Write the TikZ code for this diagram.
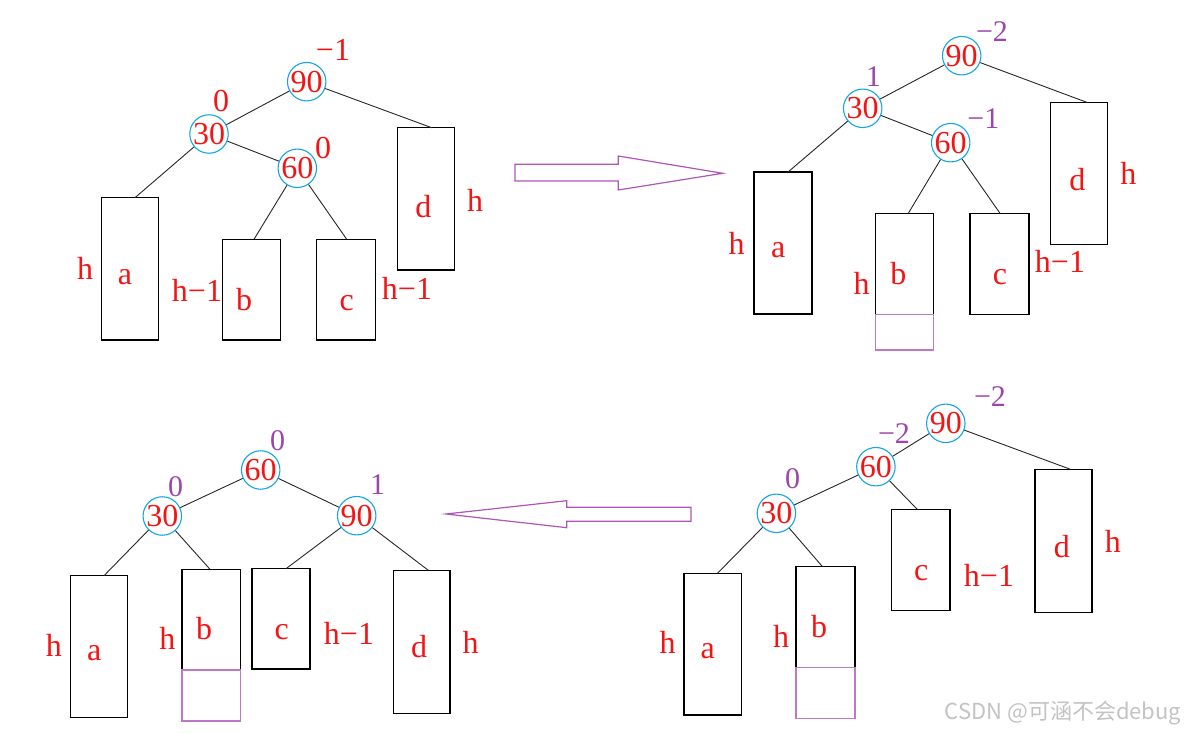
\documentclass[tikz,border=0pt]{standalone}
\usepackage{fontspec}
\setmainfont{Liberation Serif}
\newfontfamily\cjk{Noto Sans CJK SC}
\usetikzlibrary{fit}
\definecolor{nred}{RGB}{245,20,20}
\definecolor{cblue}{RGB}{20,165,230}
\definecolor{bpurple}{RGB}{155,70,170}
\definecolor{apurple}{RGB}{175,85,185}
\definecolor{epurple}{RGB}{190,120,200}
\definecolor{wmgray}{RGB}{195,195,195}
\tikzset{
  key/.style={circle, draw=cblue, line width=0.55pt, minimum size=18pt, inner sep=0pt, text=nred, font=\fontsize{16}{16}\selectfont},
  sub/.style={draw=black, line width=0.7pt, inner sep=0pt},
  ext/.style={draw=epurple, line width=0.6pt, inner sep=0pt},
  lbl/.style={text=nred, font=\fontsize{16}{16}\selectfont, inner sep=0pt},
  bal/.style={text=bpurple, font=\fontsize{15}{15}\selectfont, inner sep=0pt},
  edge/.style={draw=black!85, line width=0.45pt},
  bigarrow/.style={draw=apurple, line width=0.6pt},
}
\begin{document}
\begin{tikzpicture}[x=0.5pt,y=-0.5pt]
\useasboundingbox (0,0) rectangle (1185,733);

% ================= Panel 1 (top-left) =================
\node[key] (p1n90) at (306.7,81.7) {90};
\node[key] (p1n30) at (209,134) {30};
\node[key] (p1n60) at (297.3,168.3) {60};
\node[lbl] (p1b90) at (333,50) {−1};
\node[lbl] (p1b30) at (221,101) {0};
\node[lbl] (p1b60) at (323,148) {0};
\node[sub, fit={(101.7,197.7)(158.3,340)}] (p1A) {};
\node[sub, fit={(222.3,239.3)(280.3,340)}] (p1B) {};
\node[sub, fit={(316.7,239.3)(375.3,340)}] (p1C) {};
\node[sub, fit={(397.3,127.7)(454.3,270)}] (p1D) {};
\coordinate (p1At) at (135,197.7);
\coordinate (p1Bt) at (254,239.3);
\coordinate (p1Ct) at (346.7,239.3);
\coordinate (p1Dt) at (431.7,127.7);
\node[lbl] (p1la) at (125,276.7) {a};
\node[lbl] (p1lb) at (244,300) {b};
\node[lbl] (p1lc) at (346.7,303.3) {c};
\node[lbl] (p1ld) at (423.3,206.7) {d};
\node[lbl] (p1ha) at (85,268.3) {h};
\node[lbl] (p1hb) at (197,290) {h−1};
\node[lbl] (p1hc) at (407,288.3) {h−1};
\node[lbl] (p1hd) at (475,200) {h};
\draw[edge] (p1n90) -- (p1n30);
\draw[edge] (p1n90) -- (p1Dt);
\draw[edge] (p1n30) -- (p1At);
\draw[edge] (p1n30) -- (p1n60);
\draw[edge] (p1n60) -- (p1Bt);
\draw[edge] (p1n60) -- (p1Ct);

% ================= Arrow 1 =================
\draw[bigarrow] (515,164.3) -- (618.3,164.3) -- (618.3,156) -- (722.7,173.3) -- (618.3,190) -- (618.3,181) -- (515,181) -- cycle;

% ================= Panel 2 (top-right) =================
\node[key] (p2n90) at (961.7,55.7) {90};
\node[key] (p2n30) at (862.7,108.3) {30};
\node[key] (p2n60) at (950.7,142.7) {60};
\node[bal] (p2b90) at (992,31.7) {−2};
\node[bal] (p2b30) at (873.3,76.7) {1};
\node[bal] (p2b60) at (983.3,118.3) {−1};
\node[sub, line width=0.9pt, fit={(754.3,172.3)(812.3,314.3)}] (p2A) {};
\node[sub, fit={(875.7,213.3)(933.7,314.3)}] (p2B) {};
\node[ext, fit={(875.7,314.3)(933.7,350)}] (p2E) {};
\node[sub, fit={(970,213.3)(1029,314.3)}] (p2C) {};
\node[sub, fit={(1050.7,102.3)(1107.7,244.3)}] (p2D) {};
\coordinate (p2At) at (787.7,172.3);
\coordinate (p2Bt) at (908.3,213.3);
\coordinate (p2Ct) at (1000,213.3);
\coordinate (p2Dt) at (1086.7,102.3);
\node[lbl] (p2la) at (778.3,250) {a};
\node[lbl] (p2lb) at (898.3,273.3) {b};
\node[lbl] (p2lc) at (1000,276.7) {c};
\node[lbl] (p2ld) at (1077.3,180) {d};
\node[lbl] (p2ha) at (736.7,243.3) {h};
\node[lbl] (p2hb) at (861.7,283.3) {h};
\node[lbl] (p2hc) at (1060,261.7) {h−1};
\node[lbl] (p2hd) at (1128.3,173.3) {h};
\draw[edge] (p2n90) -- (p2n30);
\draw[edge] (p2n90) -- (p2Dt);
\draw[edge] (p2n30) -- (p2At);
\draw[edge] (p2n30) -- (p2n60);
\draw[edge] (p2n60) -- (p2Bt);
\draw[edge] (p2n60) -- (p2Ct);

% ================= Panel 3 (bottom-right) =================
\node[key] (p3n90) at (945.8,423.3) {90};
\node[key] (p3n60) at (875.9,466.7) {60};
\node[key] (p3n30) at (776.4,513.3) {30};
\node[bal] (p3b90) at (990,397) {−2};
\node[bal] (p3b60) at (894,433.3) {−2};
\node[bal] (p3b30) at (792.5,479) {0};
\node[sub, fit={(684.1,573.3)(741.6,715)}] (p3A) {};
\node[sub, fit={(796,566.7)(854.9,667.7)}] (p3B) {};
\node[ext, fit={(796,667.7)(854.9,718.3)}] (p3E) {};
\node[sub, fit={(891.4,509.3)(949.9,610.7)}] (p3C) {};
\node[sub, fit={(1035,469.3)(1092.1,612.3)}] (p3D) {};
\coordinate (p3At) at (717.5,573.3);
\coordinate (p3Bt) at (822.5,566.7);
\coordinate (p3Ct) at (917.2,509.3);
\coordinate (p3Dt) at (1070.4,469.3);
\node[lbl] (p3la) at (707.8,651) {a};
\node[lbl] (p3lb) at (819,626.7) {b};
\node[lbl] (p3lc) at (921.3,573.3) {c};
\node[lbl] (p3ld) at (1061.8,546.7) {d};
\node[lbl] (p3ha) at (667.5,642.3) {h};
\node[lbl] (p3hb) at (781.2,636.7) {h};
\node[lbl] (p3hc) at (989,575.7) {h−1};
\node[lbl] (p3hd) at (1112.8,541.7) {h};
\draw[edge] (p3n90) -- (p3n60);
\draw[edge] (p3n90) -- (p3Dt);
\draw[edge] (p3n60) -- (p3n30);
\draw[edge] (p3n60) -- (p3Ct);
\draw[edge] (p3n30) -- (p3At);
\draw[edge] (p3n30) -- (p3Bt);

% ================= Arrow 2 =================
\draw[bigarrow] (691,507.3) -- (566.7,507.3) -- (566.7,500.7) -- (446,514) -- (566.7,527.7) -- (566.7,521.3) -- (691,521.3) -- cycle;

% ================= Panel 4 (bottom-left) =================
\node[key] (p4n60) at (260.7,470) {60};
\node[key] (p4n30) at (162.3,516) {30};
\node[key] (p4n90) at (356.7,515.7) {90};
\node[bal] (p4b60) at (277.7,441) {0};
\node[bal] (p4b30) at (175.7,486.7) {0};
\node[bal] (p4b90) at (377.7,485) {1};
\node[sub, fit={(70.7,575.7)(127.3,717.7)}] (p4A) {};
\node[sub, fit={(182,569.3)(240.3,670)}] (p4B) {};
\node[ext, fit={(182,670)(240.3,721)}] (p4E) {};
\node[sub, fit={(252,568.7)(310,669)}] (p4C) {};
\node[sub, fit={(393.3,570.3)(450,713.3)}] (p4D) {};
\coordinate (p4At) at (104,575.7);
\coordinate (p4Bt) at (210,569.3);
\coordinate (p4Ct) at (286,568.7);
\coordinate (p4Dt) at (428.3,570.3);
\node[lbl] (p4la) at (94.3,653.3) {a};
\node[lbl] (p4lb) at (204,628.3) {b};
\node[lbl] (p4lc) at (281.7,631.7) {c};
\node[lbl] (p4ld) at (419,646.7) {d};
\node[lbl] (p4ha) at (54,645) {h};
\node[lbl] (p4hb) at (167.3,638.3) {h};
\node[lbl] (p4hc) at (349,633.3) {h−1};
\node[lbl] (p4hd) at (470.7,642.7) {h};
\draw[edge] (p4n60) -- (p4n30);
\draw[edge] (p4n60) -- (p4n90);
\draw[edge] (p4n30) -- (p4At);
\draw[edge] (p4n30) -- (p4Bt);
\draw[edge] (p4n90) -- (p4Ct);
\draw[edge] (p4n90) -- (p4Dt);

% ================= Watermark =================
\node[text=wmgray, font=\cjk\fontsize{11}{11}\selectfont, inner sep=0pt] (wm) at (1063,713) {CSDN @可涵不会debug};
\end{tikzpicture}
\end{document}
